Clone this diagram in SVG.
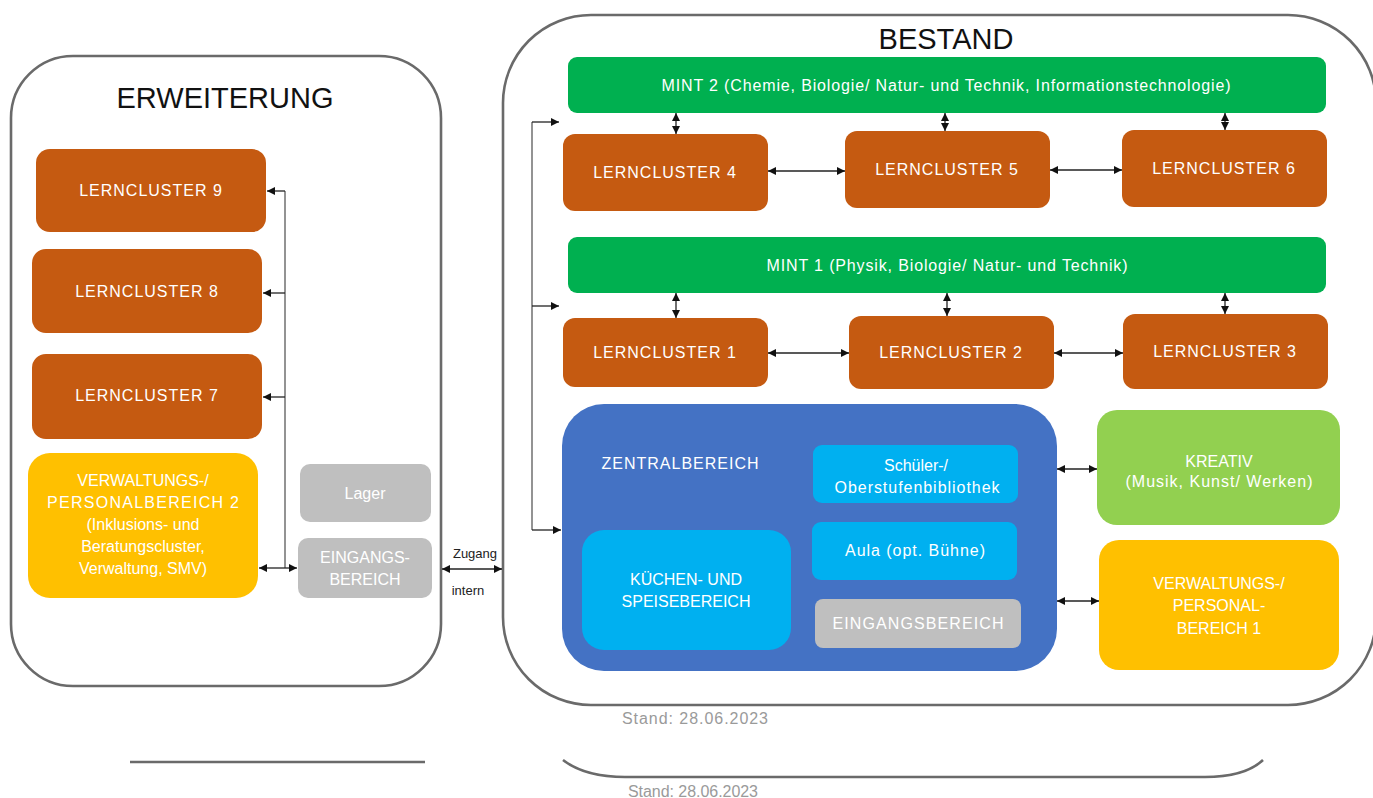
<svg xmlns="http://www.w3.org/2000/svg" width="1373" height="798" viewBox="0 0 1373 798">
<style>
.cont{fill:#fff;stroke:#6a6a6a;stroke-width:2.6}
.lc{fill:#C55A11}
.mint{fill:#00B050}
.yel{fill:#FFC000}
.gray{fill:#BFBFBF}
.lb{fill:#00B0F0}
.t{font-family:"Liberation Sans",Arial,sans-serif;fill:#fff;text-anchor:middle;font-size:16px}
.lct{letter-spacing:1px}
.title{font-family:"Liberation Sans",Arial,sans-serif;fill:#111;text-anchor:middle;font-size:29px}
.small{font-family:"Liberation Sans",Arial,sans-serif;fill:#222;font-size:13px;text-anchor:middle}
.stand{font-family:"Liberation Sans",Arial,sans-serif;fill:#9a9a9a;font-size:16px}
.c{fill:none;stroke:#222;stroke-width:1.3}
.bus{fill:none;stroke:#6f6f6f;stroke-width:1.5}
</style>
<defs>
<marker id="ah" viewBox="0 0 10 10" refX="10" refY="5" markerWidth="8" markerHeight="8" markerUnits="userSpaceOnUse" orient="auto-start-reverse">
<path d="M0,0 L10,5 L0,10 z" fill="#111"/>
</marker>
</defs>

<g id="erweiterung">
<rect class="cont" x="11" y="56" width="430" height="630" rx="62"/>
<text class="title" x="225" y="108">ERWEITERUNG</text>
</g>
<g id="bestand">
<rect class="cont" x="503" y="15" width="873" height="690" rx="88"/>
<text class="title" x="946" y="49">BESTAND</text>
</g>

<g id="lc9"><rect class="lc" x="36" y="149" width="230" height="83" rx="14"/><text class="t lct" x="151" y="196">LERNCLUSTER 9</text></g>
<g id="lc8"><rect class="lc" x="32" y="249" width="230" height="84" rx="14"/><text class="t lct" x="147" y="297">LERNCLUSTER 8</text></g>
<g id="lc7"><rect class="lc" x="32" y="354" width="230" height="85" rx="14"/><text class="t lct" x="147" y="401">LERNCLUSTER 7</text></g>
<g id="vp2"><rect class="yel" x="28" y="453" width="230" height="145" rx="22"/>
<text class="t" x="143" y="486">VERWALTUNGS-/</text>
<text class="t" x="143" y="508" textLength="192">PERSONALBEREICH 2</text>
<text class="t" x="143" y="530">(Inklusions- und</text>
<text class="t" x="143" y="552">Beratungscluster,</text>
<text class="t" x="143" y="574">Verwaltung, SMV)</text></g>
<g id="lager"><rect class="gray" x="300" y="464" width="131" height="58" rx="10"/><text class="t" x="365" y="499">Lager</text></g>
<g id="eingang-l"><rect class="gray" x="298" y="538" width="134" height="60" rx="10"/>
<text class="t" x="365" y="563">EINGANGS-</text><text class="t" x="365" y="585">BEREICH</text></g>

<g id="mint2"><rect class="mint" x="568" y="57" width="758" height="56" rx="9"/><text class="t" x="946" y="91" textLength="569">MINT 2 (Chemie, Biologie/ Natur- und Technik, Informationstechnologie)</text></g>
<g id="lc4"><rect class="lc" x="563" y="134" width="205" height="77" rx="12"/><text class="t lct" x="665" y="178">LERNCLUSTER 4</text></g>
<g id="lc5"><rect class="lc" x="845" y="131" width="205" height="77" rx="12"/><text class="t lct" x="947" y="175">LERNCLUSTER 5</text></g>
<g id="lc6"><rect class="lc" x="1122" y="130" width="205" height="77" rx="12"/><text class="t lct" x="1224" y="174">LERNCLUSTER 6</text></g>

<g id="mint1"><rect class="mint" x="568" y="237" width="758" height="56" rx="9"/><text class="t" x="947" y="271" textLength="361">MINT 1 (Physik, Biologie/ Natur- und Technik)</text></g>
<g id="lc1"><rect class="lc" x="563" y="318" width="205" height="69" rx="12"/><text class="t lct" x="665" y="358">LERNCLUSTER 1</text></g>
<g id="lc2"><rect class="lc" x="849" y="316" width="205" height="73" rx="12"/><text class="t lct" x="951" y="358">LERNCLUSTER 2</text></g>
<g id="lc3"><rect class="lc" x="1123" y="314" width="205" height="75" rx="12"/><text class="t lct" x="1225" y="357">LERNCLUSTER 3</text></g>

<g id="zentral"><rect x="562" y="404" width="495" height="267" rx="42" fill="#4472C4"/>
<text class="t" x="680" y="469" textLength="157">ZENTRALBEREICH</text></g>
<g id="bibliothek"><rect class="lb" x="813" y="445" width="205" height="58" rx="9"/>
<text class="t" x="916" y="471">Schüler-/</text><text class="t" x="917" y="493" textLength="165">Oberstufenbibliothek</text></g>
<g id="aula"><rect class="lb" x="812" y="522" width="205" height="58" rx="9"/><text class="t" x="915" y="556" textLength="140">Aula (opt. Bühne)</text></g>
<g id="eingang-r"><rect class="gray" x="815" y="599" width="206" height="49" rx="8"/><text class="t" x="918" y="629" textLength="171">EINGANGSBEREICH</text></g>
<g id="kuechen"><rect class="lb" x="582" y="530" width="209" height="120" rx="22"/>
<text class="t" x="686" y="585">KÜCHEN- UND</text><text class="t" x="686" y="607">SPEISEBEREICH</text></g>

<g id="kreativ"><rect x="1097" y="410" width="243" height="115" rx="20" fill="#92D050"/>
<text class="t" x="1219" y="467">KREATIV</text><text class="t" x="1219" y="487" textLength="187">(Musik, Kunst/ Werken)</text></g>
<g id="vp1"><rect class="yel" x="1099" y="540" width="240" height="130" rx="20"/>
<text class="t" x="1219" y="589">VERWALTUNGS-/</text><text class="t" x="1219" y="611">PERSONAL-</text><text class="t" x="1219" y="634">BEREICH 1</text></g>

<g id="connectors">
<path class="bus" d="M285,191 V568"/>
<path class="c" d="M285,191 H267" marker-end="url(#ah)"/>
<path class="c" d="M285,293 H263" marker-end="url(#ah)"/>
<path class="c" d="M285,397 H263" marker-end="url(#ah)"/>
<path class="c" d="M285,568 H259" marker-end="url(#ah)"/>
<path class="c" d="M285,568 H297" marker-end="url(#ah)"/>
<path class="c" d="M442,569 H502" marker-start="url(#ah)" marker-end="url(#ah)"/>
<path class="bus" d="M532,122 V530"/>
<path class="c" d="M532,122 H559" marker-end="url(#ah)"/>
<path class="c" d="M532,306 H559" marker-end="url(#ah)"/>
<path class="c" d="M532,530 H561" marker-end="url(#ah)"/>
<path class="c" d="M676,113 V134" marker-start="url(#ah)" marker-end="url(#ah)"/>
<path class="c" d="M945,113 V131" marker-start="url(#ah)" marker-end="url(#ah)"/>
<path class="c" d="M1225,113 V130" marker-start="url(#ah)" marker-end="url(#ah)"/>
<path class="c" d="M768,171 H845" marker-start="url(#ah)" marker-end="url(#ah)"/>
<path class="c" d="M1050,170 H1122" marker-start="url(#ah)" marker-end="url(#ah)"/>
<path class="c" d="M676,293 V318" marker-start="url(#ah)" marker-end="url(#ah)"/>
<path class="c" d="M947,293 V316" marker-start="url(#ah)" marker-end="url(#ah)"/>
<path class="c" d="M1225,293 V314" marker-start="url(#ah)" marker-end="url(#ah)"/>
<path class="c" d="M768,353 H849" marker-start="url(#ah)" marker-end="url(#ah)"/>
<path class="c" d="M1054,353 H1123" marker-start="url(#ah)" marker-end="url(#ah)"/>
<path class="c" d="M1057,469 H1097" marker-start="url(#ah)" marker-end="url(#ah)"/>
<path class="c" d="M1057,601 H1099" marker-start="url(#ah)" marker-end="url(#ah)"/>
</g>

<text class="small" x="475" y="558">Zugang</text>
<text class="small" x="468" y="595">intern</text>
<text class="stand" x="622" y="724" textLength="146">Stand: 28.06.2023</text>

<g id="artifacts">
<path d="M130,762 H425" fill="none" stroke="#6a6a6a" stroke-width="2.6"/>
<path d="M563,760 Q585,777 625,777 L1205,777 Q1245,777 1263,760" fill="none" stroke="#6a6a6a" stroke-width="2.6"/>
<text class="stand" x="628" y="797" textLength="130">Stand: 28.06.2023</text>
</g>
</svg>
